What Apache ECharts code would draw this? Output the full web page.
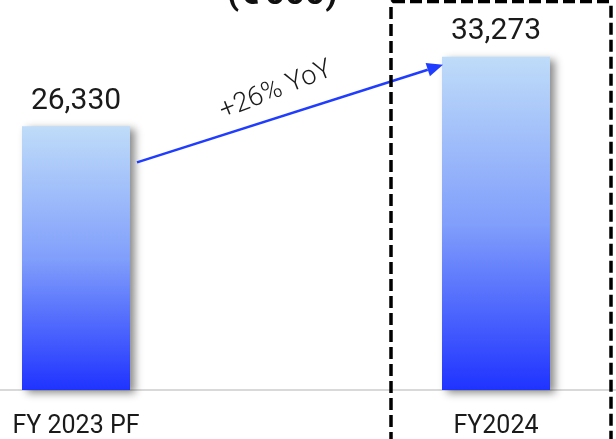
<!DOCTYPE html>
<html>
<head>
<meta charset="utf-8">
<script src="https://cdn.jsdelivr.net/npm/echarts@6/dist/echarts.min.js"></script>
<style>
html,body{margin:0;padding:0;background:#fff;}
#main{width:616px;height:439px;}
</style>
</head>
<body>
<div id="main"></div>
<script>
var categories = ['FY 2023 PF', 'FY2024'];
var values = [26330, 33273];
var unitLabel = "(€'000)";
var yMax = 38950;

var chart = echarts.init(document.getElementById('main'), null, {renderer: 'canvas'});

var barGradient = new echarts.graphic.LinearGradient(0, 0, 0, 1, [
  {offset: 0, color: '#bfdcf9'},
  {offset: 0.5, color: '#819ffb'},
  {offset: 1, color: '#1f33ff'}
]);

chart.setOption({
  animation: false,
  backgroundColor: '#ffffff',
  grid: {left: -134, right: -90, top: 0, bottom: 49, containLabel: false, outerBoundsMode: 'none'},
  xAxis: {
    type: 'category',
    data: categories,
    axisLine: {show: true, lineStyle: {color: '#d9d9d9', width: 2}},
    axisTick: {show: false},
    axisLabel: {
      color: '#1a1a1a', fontFamily: 'Roboto', fontSize: 25, margin: 24
    }
  },
  yAxis: {
    type: 'value', min: 0, max: yMax, show: false,
    splitLine: {show: false}
  },
  series: [{
    type: 'bar',
    data: values,
    barWidth: 108,
    itemStyle: {
      color: barGradient,
      shadowColor: 'rgba(0,0,0,0.45)',
      shadowBlur: 8,
      shadowOffsetX: 5,
      shadowOffsetY: 3
    },
    label: {
      show: true,
      position: 'top',
      distance: 10,
      color: '#1a1a1a',
      fontFamily: 'Roboto',
      fontSize: 30,
      formatter: function (p) { return p.value.toLocaleString('en-US'); }
    }
  }]
});

function addAnnotations() {
  var p0 = chart.convertToPixel({gridIndex: 0}, [0, values[0]]);
  var p1 = chart.convertToPixel({gridIndex: 0}, [1, values[1]]);
  var half = 54;
  var sx = p0[0] + half + 7, sy = p0[1] + 36;
  var ex = p1[0] - half + 1, ey = p1[1] + 8;
  var ang = Math.atan2(ey - sy, ex - sx);
  var headLen = 16, headW = 7;
  var bx = ex - headLen * Math.cos(ang), by = ey - headLen * Math.sin(ang);
  var nx = -Math.sin(ang), ny = Math.cos(ang);
  var growth = Math.round((values[1] / values[0] - 1) * 100);
  var mx = (sx + ex) / 2, my = (sy + ey) / 2;
  chart.setOption({
    graphic: [
      {
        type: 'text', z: 10,
        left: 227, top: -22,
        style: {
          text: unitLabel,
          font: 'bold 35px Roboto', fill: '#111'
        }
      },
      {
        type: 'line', z: 20,
        shape: {x1: sx, y1: sy, x2: bx, y2: by},
        style: {stroke: '#1f3cff', lineWidth: 2.5}
      },
      {
        type: 'polygon', z: 20,
        shape: {points: [[ex, ey], [bx + nx * headW, by + ny * headW], [bx - nx * headW, by - ny * headW]]},
        style: {fill: '#1f3cff'}
      },
      {
        type: 'text', z: 20,
        x: mx - 14, y: my - 23,
        rotation: -ang + 0.07,
        style: {
          text: '+' + growth + '% YoY',
          font: '300 27px Roboto', fill: '#1a1a1a',
          align: 'center', verticalAlign: 'middle'
        }
      },
      {
        type: 'rect', z: 30,
        shape: {x: p1[0] - 105, y: 1.5, width: 220, height: 480, r: 2},
        style: {fill: 'none', stroke: '#000', lineWidth: 3.5, lineDash: [12, 5]}
      }
    ]
  });
}
addAnnotations();
</script>
</body>
</html>
